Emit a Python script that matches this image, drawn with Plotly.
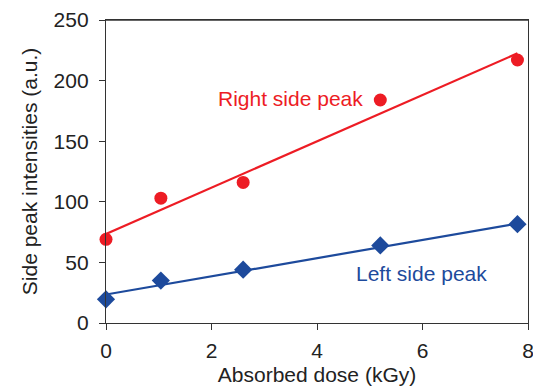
import plotly.graph_objects as go

# Data
dose = [0, 1.04, 2.6, 5.2, 7.8]
right_peak = [69, 103, 116, 184, 217]
left_peak = [19.5, 35, 44, 64, 81.5]

fit_x = [0, 7.8]
right_fit = [73.5, 222.5]
left_fit = [23.5, 82]

x_ticks = [0, 2, 4, 6, 8]
y_ticks = [0, 50, 100, 150, 200, 250]

RED = "#ED1C24"
BLUE = "#1D4A9C"
FONT = "Liberation Sans, Arial, sans-serif"
FRAME = "#333333"

fig = go.Figure()
fig.add_trace(go.Scatter(x=fit_x, y=right_fit, mode="lines",
                         line=dict(color=RED, width=2.2), cliponaxis=False, showlegend=False))
fig.add_trace(go.Scatter(x=fit_x, y=left_fit, mode="lines",
                         line=dict(color=BLUE, width=2.2), cliponaxis=False, showlegend=False))
fig.add_trace(go.Scatter(x=dose, y=right_peak, mode="markers",
                         marker=dict(symbol="circle", size=13, color=RED),
                         cliponaxis=False, showlegend=False))
fig.add_trace(go.Scatter(x=dose, y=left_peak, mode="markers",
                         marker=dict(symbol="diamond", size=14, color=BLUE),
                         cliponaxis=False, showlegend=False))

fig.add_annotation(x=2.08, y=185, xref="x", yref="y", text="Right side peak",
                   showarrow=False, xanchor="left", yanchor="middle",
                   font=dict(family=FONT, size=21, color=RED))
fig.add_annotation(x=4.7, y=41, xref="x", yref="y", text="Left side peak",
                   showarrow=False, xanchor="left", yanchor="middle",
                   font=dict(family=FONT, size=21, color=BLUE))

# top edge of the frame around the plotting area
fig.add_shape(type="line", xref="paper", yref="paper", x0=0, x1=1, y0=1, y1=1,
              line=dict(color=FRAME, width=1.5), layer="above")

axis_common = dict(showgrid=False, zeroline=False, showline=True, linecolor=FRAME,
                   linewidth=1.3, mirror=True, ticks="outside", ticklen=6,
                   tickwidth=1.3, tickcolor=FRAME, automargin=False,
                   ticklabeloverflow="allow",
                   tickfont=dict(family=FONT, size=21, color="#222222"))

fig.update_xaxes(range=[0, 8], tickvals=x_ticks, ticktext=[str(v) for v in x_ticks],
                 ticklabelstandoff=3,
                 title=dict(text="Absorbed dose (kGy)", standoff=5,
                            font=dict(family=FONT, size=21, color="#222222")),
                 **axis_common)
fig.update_yaxes(range=[0, 250], tickvals=y_ticks, ticktext=[str(v) for v in y_ticks],
                 ticklabelstandoff=6,
                 title=dict(text="Side peak intensities (a.u.)", standoff=10,
                            font=dict(family=FONT, size=21, color="#222222")),
                 **axis_common)

# the page body adds an 8px offset; margins compensate so the plot area lands
# at about x 106..528, y 20..323 in the window
fig.update_layout(width=541, height=390, plot_bgcolor="white", paper_bgcolor="white",
                  margin=dict(l=98, r=21, t=12, b=75), showlegend=False)

fig.write_html("out.html", config={"displayModeBar": False})
